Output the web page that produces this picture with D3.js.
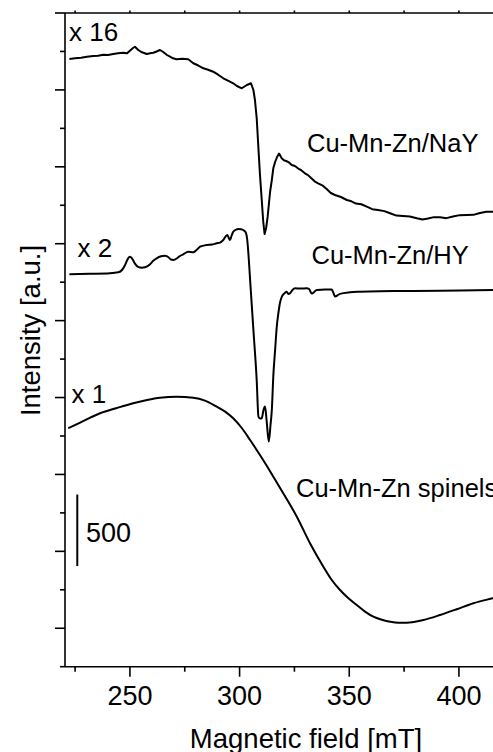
<!DOCTYPE html>
<html>
<head>
<meta charset="utf-8">
<script src="https://cdn.jsdelivr.net/npm/d3@7"></script>
<style>
  html, body { margin: 0; padding: 0; background: #fff; }
  svg { display: block; }
  text { font-family: "Liberation Sans", Arial, Helvetica, sans-serif; fill: #000; }
</style>
</head>
<body>
<svg id="chart" width="493" height="752"></svg>
<script>
// EPR spectra (first derivative), stacked with vertical offsets.
// Field in mT, intensity in arbitrary units (already scaled by the factor shown).

// Cu-Mn-Zn/NaY, x16
const fieldNaY = [222.4,225.0,227.7,230.4,233.3,235.5,237.9,240.0,242.4,244.6,247.0,248.7,250.0,251.4,252.3,253.8,
  255.5,257.7,259.2,260.7,262.4,263.7,265.2,266.9,268.3,269.6,271.3,273.8,276.6,278.9,281.0,283.5,285.6,288.0,
  290.2,292.6,294.7,297.1,298.8,301.0,303.3,305.2,306.3,307.0,307.8,308.5,309.3,310.1,310.8,311.4,312.1,312.8,
  313.9,314.7,315.4,316.2,317.1,318.0,319.2,320.2,321.2,322.5,323.8,325.2,326.6,328.2,329.8,331.2,332.6,334.2,
  335.8,337.7,339.7,341.6,343.5,346.2,348.9,351.0,353.1,355.5,358.0,360.5,363.1,366.0,368.6,371.5,374.5,377.6,
  380.8,383.4,385.9,388.6,391.4,394.3,397.3,400.4,403.6,406.6,409.6,412.5,415.4,419.3,423.3,426.6,430.0];
const intensityNaY = [4254,4259,4263,4270,4275,4277,4284,4282,4289,4294,4298,4294,4312,4331,4340,4317,
  4301,4289,4294,4298,4308,4317,4303,4282,4270,4259,4252,4256,4252,4224,4210,4189,4179,4165,
  4144,4119,4102,4084,4065,4049,4072,4084,4037,3967,3841,3652,3442,3267,3113,3029,3071,3150,
  3323,3407,3491,3533,3568,3592,3559,3545,3540,3530,3512,3505,3489,3474,3454,3441,3421,3398,
  3384,3370,3344,3316,3302,3288,3267,3258,3242,3237,3220,3203,3197,3189,3174,3158,3155,3151,
  3139,3131,3137,3147,3146,3140,3151,3161,3162,3163,3176,3184,3185,3186,3197,3204,3204];

// Cu-Mn-Zn/HY, x2
const fieldHY = [222.4,231.8,240.9,244.7,246.4,247.8,249.1,250.0,251.0,252.3,253.7,255.4,256.9,259.2,260.5,262.2,
  264.2,266.0,267.4,268.7,269.8,271.5,272.8,274.3,276.6,278.9,280.6,282.0,285.0,287.4,289.6,291.1,292.6,293.6,
  294.4,295.0,295.6,296.3,297.1,298.4,299.4,300.7,301.8,302.7,303.5,304.1,304.8,306.3,307.8,308.6,309.3,310.1,
  310.9,311.6,312.3,313.3,314.1,314.7,315.4,316.2,316.9,317.7,318.4,319.2,320.3,321.5,322.2,323.0,324.1,325.3,
  327.6,330.6,331.7,332.9,333.7,335.2,339.0,342.0,342.8,343.5,344.9,345.8,350.4,354.9,364.0,373.2,391.4,415.4,430.0];
const intensityHY = [2747,2750,2754,2761,2777,2812,2857,2870,2857,2822,2799,2793,2796,2817,2840,2859,
  2873,2877,2868,2850,2847,2859,2875,2887,2905,2901,2920,2940,2952,2955,2964,2969,2987,3011,
  3022,3004,2987,3015,3045,3059,3064,3062,3055,3043,2987,2875,2707,2357,2007,1750,1737,1739,
  1797,1821,1727,1576,1692,1797,2042,2217,2371,2476,2546,2588,2612,2625,2609,2614,2637,2649,
  2647,2649,2644,2612,2619,2637,2640,2640,2616,2591,2602,2610,2621,2625,2629,2630,2632,2637,2638];

// Cu-Mn-Zn spinels, x1
const fieldSpinel = [221.9,229.1,236.4,244.1,251.5,257.8,263.7,271.3,278.9,284.2,289.6,293.4,297.1,301.0,304.8,
  307.8,311.6,315.4,319.9,326.1,332.1,338.2,341.7,345.8,349.5,353.4,357.2,361.0,364.5,368.6,372.3,376.2,
  380.0,383.8,391.4,399.0,406.6,415.4,423.3,430.0];
const intensitySpinel = [1669,1723,1774,1811,1844,1867,1883,1890,1883,1863,1820,1786,1739,1671,1587,
  1517,1426,1330,1214,1050,864,700,614,537,481,432,386,350,330,315,308,308,
  315,327,362,402,444,479,509,537];

const xMajorTicks = [250, 300, 350, 400];
const xMinorTicks = [225, 275, 325, 375, 425];
const xTickLabels = ["250", "300", "350", "400"];

const seriesLabels = ["Cu-Mn-Zn/NaY", "Cu-Mn-Zn/HY", "Cu-Mn-Zn spinels"];
const factorLabels = ["x 16", "x 2", "x 1"];
const scaleBarValue = 500;
const scaleBarBase = 705;
const scaleBarField = 226;

const xTitle = "Magnetic field [mT]";
const yTitle = "Intensity [a.u.]";

// ---- layout ----
const padLeft = 65, padTop = 13, plotBottom = 666.7;
const xDomain = [220.4, 430];
const yDomain = [0, 4576];
const pxPerMT = 2.1933;

const svg = d3.select("#chart");
const x = d3.scaleLinear().domain(xDomain).range([padLeft, padLeft + (xDomain[1] - xDomain[0]) * pxPerMT]);
const y = d3.scaleLinear().domain(yDomain).range([plotBottom, padTop]);
const xRight = x.range()[1];

// ---- axes ----
const axisG = svg.append("g").attr("stroke", "#000").attr("stroke-width", 1.6).attr("fill", "none");

// frame lines
axisG.append("line").attr("x1", padLeft).attr("x2", padLeft).attr("y1", padTop).attr("y2", plotBottom);
axisG.append("line").attr("x1", padLeft).attr("x2", xRight).attr("y1", plotBottom).attr("y2", plotBottom);
axisG.append("line").attr("x1", padLeft).attr("x2", xRight).attr("y1", padTop).attr("y2", padTop);
axisG.append("line").attr("x1", xRight).attr("x2", xRight).attr("y1", padTop).attr("y2", plotBottom);

// bottom ticks
axisG.append("g").selectAll("line").data(xMajorTicks).join("line")
  .attr("x1", d => x(d)).attr("x2", d => x(d)).attr("y1", plotBottom).attr("y2", plotBottom + 10);
axisG.append("g").selectAll("line").data(xMinorTicks).join("line")
  .attr("x1", d => x(d)).attr("x2", d => x(d)).attr("y1", plotBottom).attr("y2", plotBottom + 5);
// top ticks (short)
axisG.append("g").selectAll("line").data(xMajorTicks.concat(xMinorTicks)).join("line")
  .attr("x1", d => x(d)).attr("x2", d => x(d)).attr("y1", padTop).attr("y2", padTop - 2.5);

// left ticks: alternating long / short
const nY = 17;
const yTickVals = d3.range(nY + 1).map(i => yDomain[1] - i * (yDomain[1] - yDomain[0]) / nY);
axisG.append("g").selectAll("line").data(yTickVals).join("line")
  .attr("x1", padLeft).attr("x2", (d, i) => padLeft - (i % 2 === 0 ? 10 : 5))
  .attr("y1", d => y(d)).attr("y2", d => y(d));

// tick labels
svg.append("g").selectAll("text").data(xMajorTicks).join("text")
  .attr("x", d => x(d)).attr("y", 705)
  .attr("text-anchor", "middle").attr("font-size", 27)
  .text((d, i) => xTickLabels[i]);

// axis titles
svg.append("text").attr("x", 306).attr("y", 747.5)
  .attr("text-anchor", "middle").attr("font-size", 27.5).text(xTitle);
svg.append("text").attr("transform", "translate(39.5,330.5) rotate(-90)")
  .attr("text-anchor", "middle").attr("font-size", 27.5).text(yTitle);

// ---- spectra ----
const lineLinear = d3.line().x(d => x(d[0])).y(d => y(d[1])).curve(d3.curveLinear);
const lineSmooth = d3.line().x(d => x(d[0])).y(d => y(d[1])).curve(d3.curveMonotoneX);

const spectra = [
  { f: fieldNaY, v: intensityNaY, gen: lineLinear },
  { f: fieldHY, v: intensityHY, gen: lineSmooth },
  { f: fieldSpinel, v: intensitySpinel, gen: lineSmooth }
];
svg.append("g").selectAll("path").data(spectra).join("path")
  .attr("d", s => s.gen(s.f.map((f, i) => [f, s.v[i]])))
  .attr("fill", "none").attr("stroke", "#000").attr("stroke-width", 2)
  .attr("stroke-linejoin", "round");

// ---- annotations ----
const factorPos = [[69, 40.7], [77.5, 256.7], [71.5, 402.7]];
svg.append("g").selectAll("text").data(factorLabels).join("text")
  .attr("x", (d, i) => factorPos[i][0]).attr("y", (d, i) => factorPos[i][1])
  .attr("font-size", 26).text(d => d);

const namePos = [[307, 152.3], [311.5, 264.3], [296, 496.7]];
svg.append("g").selectAll("text").data(seriesLabels).join("text")
  .attr("x", (d, i) => namePos[i][0]).attr("y", (d, i) => namePos[i][1])
  .attr("font-size", 25.5).text(d => d);

// intensity scale bar
svg.append("line")
  .attr("x1", x(scaleBarField)).attr("x2", x(scaleBarField))
  .attr("y1", y(scaleBarBase)).attr("y2", y(scaleBarBase + scaleBarValue))
  .attr("stroke", "#000").attr("stroke-width", 2);
svg.append("text").attr("x", 86).attr("y", 541.7).attr("font-size", 27).text(String(scaleBarValue));
</script>
</body>
</html>
